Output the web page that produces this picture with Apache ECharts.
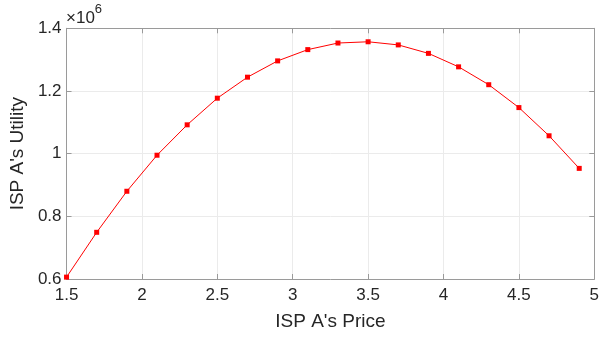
<!DOCTYPE html>
<html>
<head>
<meta charset="utf-8">
<script src="https://cdn.jsdelivr.net/npm/echarts@6/dist/echarts.min.js"></script>
<style>
  html, body { margin: 0; padding: 0; background: #fff; }
  #main { width: 615px; height: 337px; }
</style>
</head>
<body>
<div id="main"></div>
<script>
// ISP A's price vs utility
var prices = [1.5, 1.7, 1.9, 2.1, 2.3, 2.5, 2.7, 2.9, 3.1, 3.3, 3.5, 3.7, 3.9, 4.1, 4.3, 4.5, 4.7, 4.9];
var utility = [606000, 749000, 880000, 995000, 1092000, 1177000, 1244000, 1296000, 1332000,
               1353000, 1357000, 1347000, 1320000, 1277000, 1220000, 1147000, 1057000, 953000];
var xTicks = [1.5, 2, 2.5, 3, 3.5, 4, 4.5, 5];
var yTicks = [600000, 800000, 1000000, 1200000, 1400000];

var font = '"Liberation Sans", Arial, sans-serif';
var axisGray = '#9a9a9a';
var textColor = '#262626';

var myChart = echarts.init(document.getElementById('main'));

var boxAxis = {
    axisLine: { show: true, lineStyle: { color: axisGray, width: 1 } },
    axisTick: { show: true, inside: true, length: 5, lineStyle: { color: axisGray } },
    axisLabel: { show: false },
    splitLine: { show: false }
};

var option = {
    animation: false,
    backgroundColor: '#fff',
    grid: { left: 66.5, right: 20.7, top: 28.3, bottom: 58, containLabel: false },
    xAxis: [
        {
            type: 'value',
            min: xTicks[0],
            max: xTicks[xTicks.length - 1],
            interval: 0.5,
            name: "ISP A's Price",
            nameLocation: 'middle',
            nameGap: 33,
            nameTextStyle: { fontFamily: font, fontSize: 19, color: textColor },
            axisLine: { show: true, lineStyle: { color: axisGray } },
            axisTick: { show: true, inside: true, length: 5, lineStyle: { color: axisGray } },
            axisLabel: { fontFamily: font, fontSize: 17, color: textColor, margin: 8,
                formatter: function (v) { return String(v); } },
            splitLine: { show: true, lineStyle: { color: '#ebebeb', width: 1 } }
        },
        Object.assign({ type: 'value', position: 'top', min: xTicks[0], max: xTicks[xTicks.length - 1], interval: 0.5 }, boxAxis)
    ],
    yAxis: [
        {
            type: 'value',
            min: yTicks[0],
            max: yTicks[yTicks.length - 1],
            interval: 200000,
            name: "ISP A's Utility",
            nameLocation: 'middle',
            nameGap: 35,
            nameTextStyle: { fontFamily: font, fontSize: 19, color: textColor },
            axisLine: { show: true, lineStyle: { color: axisGray } },
            axisTick: { show: true, inside: true, length: 5, lineStyle: { color: axisGray } },
            axisLabel: { fontFamily: font, fontSize: 17, color: textColor, margin: 5,
                formatter: function (v) { return String(Math.round(v / 1e5) / 10); } },
            splitLine: { show: true, lineStyle: { color: '#ebebeb', width: 1 } }
        },
        Object.assign({ type: 'value', position: 'right', min: yTicks[0], max: yTicks[yTicks.length - 1], interval: 200000 }, boxAxis)
    ],
    graphic: [
        {
            type: 'text',
            left: 66,
            top: 3,
            style: {
                text: '{a|×10}{b|6}',
                rich: {
                    a: { fontFamily: font, fontSize: 17, fill: textColor, padding: [7, 0, 0, 0] },
                    b: { fontFamily: font, fontSize: 13, fill: textColor, verticalAlign: 'top', padding: [0, 0, 9, 0] }
                }
            }
        }
    ],
    series: [
        {
            name: 'utility',
            type: 'line',
            data: prices.map(function (p, i) { return [p, utility[i]]; }),
            symbol: 'rect',
            symbolSize: 5,
            itemStyle: { color: '#ff0000' },
            lineStyle: { color: '#ff0000', width: 1 },
            z: 5
        }
    ]
};

myChart.setOption(option, true);
</script>
</body>
</html>
